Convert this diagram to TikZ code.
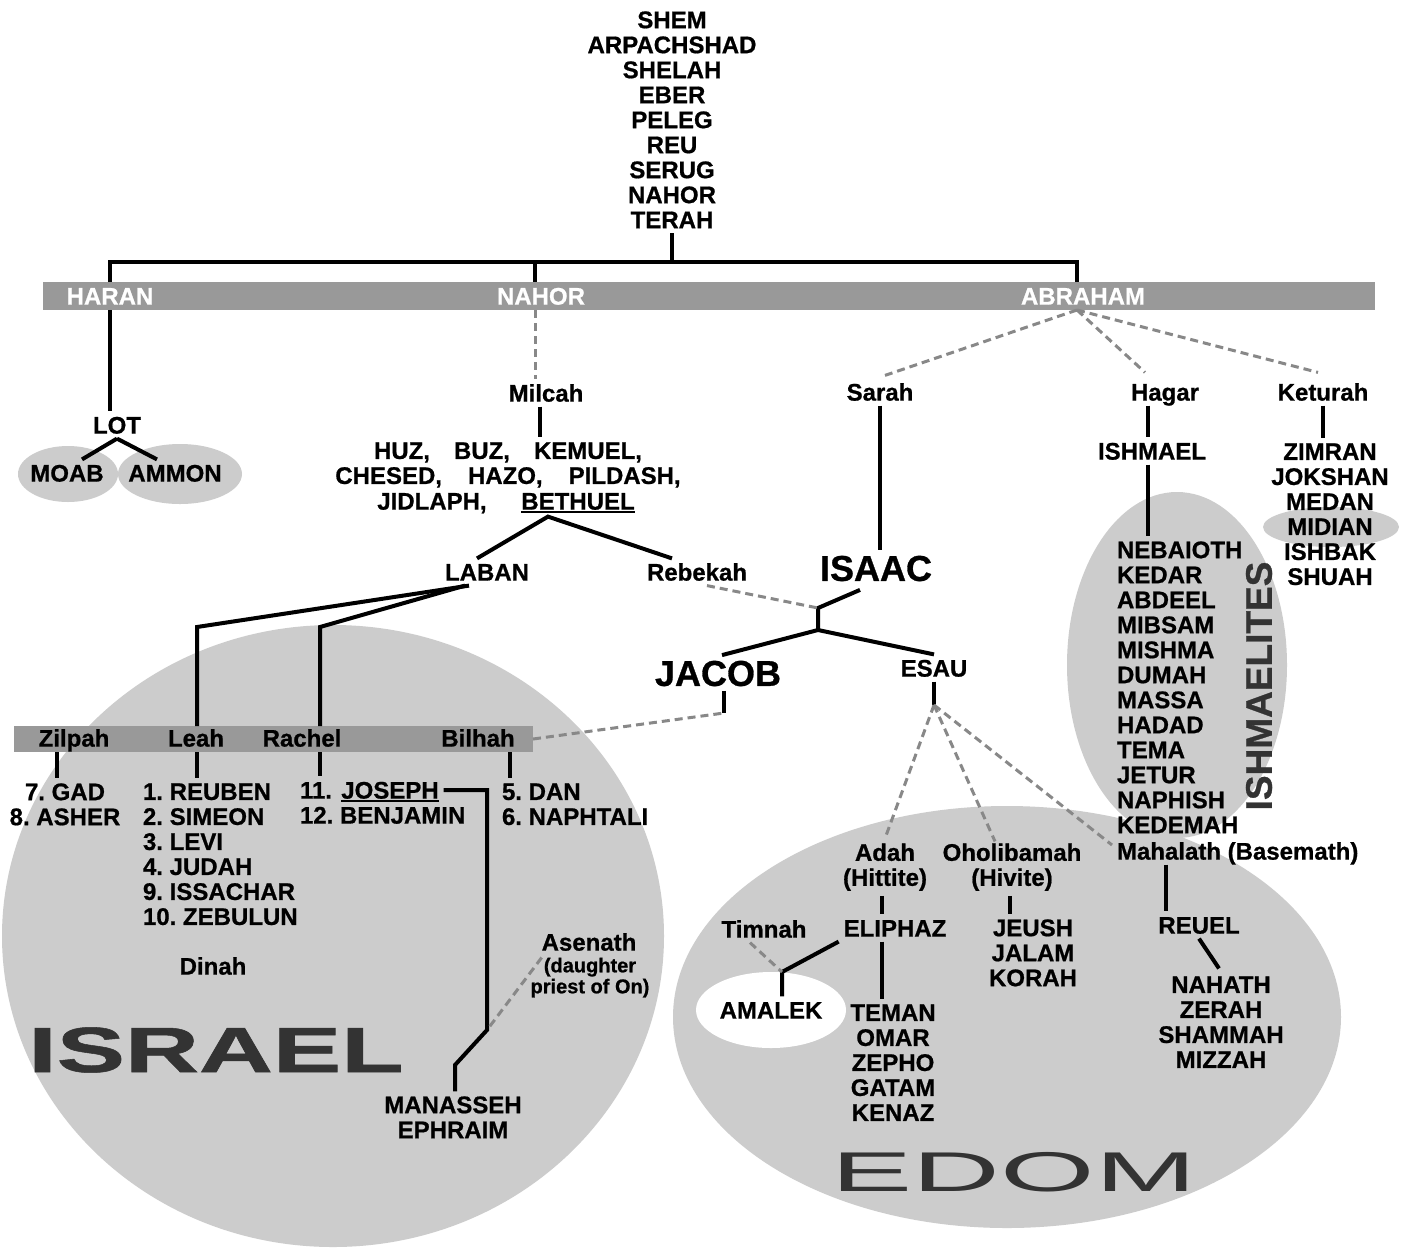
\documentclass[tikz,border=0pt]{standalone}
\usepackage{fontspec}
\usepackage{graphicx}
\setmainfont{Liberation Sans}[BoldFeatures={FakeBold=0.8}]
\usetikzlibrary{calc}
\definecolor{bargray}{HTML}{999999}
\definecolor{regiongray}{HTML}{CCCCCC}
\definecolor{dashgray}{HTML}{888888}
\definecolor{bigtext}{HTML}{333333}
\frenchspacing
\newcommand\lblfont{\fontsize{24}{25}\selectfont\bfseries\frenchspacing}
\newcommand\asefont{\fontsize{20}{21}\selectfont\bfseries}
\newcommand\bignamefont{\fontsize{36}{36}\selectfont\bfseries}
\tikzset{
  lbl/.style={font=\lblfont, inner sep=0pt, outer sep=5pt, text height=17.2pt, text depth=0pt},
  lst/.style={font=\lblfont, inner sep=0pt, outer sep=5pt, align=center, anchor=north},
  lstl/.style={font=\lblfont, inner sep=0pt, outer sep=5pt, align=left, anchor=north west},
  bigname/.style={font=\bignamefont, inner sep=0pt, outer sep=5pt, text height=25.8pt, text depth=0pt},
  onbar/.style={lbl, text=white},
  barbox/.style={fill=bargray, draw=none, inner sep=0pt, outer sep=0pt},
  region/.style={fill=regiongray},
  ln/.style={line width=4pt, draw=black},
  dsh/.style={line width=3pt, draw=dashgray, dash pattern=on 8pt off 5pt},
  ul/.style={line width=1.8pt, draw=black, shorten <=5pt, shorten >=5pt},
  bigword/.style={inner sep=0pt, text=bigtext},
}
\begin{document}
\begin{tikzpicture}[x=1pt,y=-1pt]
\fill[white] (0,0) rectangle (1405,1251);
\useasboundingbox (0,0) rectangle (1405,1251);

% ---------- regions ----------
\fill[region] (333,936) ellipse [x radius=331pt, y radius=311pt];
\fill[region] (1007,1017) ellipse [x radius=334pt, y radius=211pt];
\fill[region] (1177,665) ellipse [x radius=110pt, y radius=173pt];
\fill[region] (68,474) ellipse [x radius=50pt, y radius=28pt];
\fill[region] (180,474) ellipse [x radius=62pt, y radius=30pt];
\fill[region] (1331,527) ellipse [x radius=68pt, y radius=20pt];
\fill[white] (771,1010) ellipse [x radius=75pt, y radius=38pt];

% ---------- bars ----------
\node[barbox, minimum width=1332pt, minimum height=28pt] (bar1) at (709,296) {};
\node[barbox, minimum width=519pt, minimum height=26pt] (bar2) at (273.5,739) {};

% ---------- big words ----------
\node[bigword, font=\fontsize{64}{64}\selectfont\bfseries] (israel) at (216,1050) {\scalebox{1.6}[1]{ISRAEL}};
\node[bigword, font=\fontsize{56}{56}\selectfont] (edom) at (1014,1172) {\scalebox{2.17}[1]{EDOM}};
\node[bigword, font=\fontsize{37}{37}\selectfont\bfseries, rotate=90] (ishmaelites) at (1259,686) {ISHMAELITES};

% ---------- text nodes ----------
\node[lst] (top) at (672,6.4) {SHEM\\ARPACHSHAD\\SHELAH\\EBER\\PELEG\\REU\\SERUG\\NAHOR\\TERAH};
\node[onbar] (haran) at (110,296) {HARAN};
\node[onbar] (nahor) at (541,296) {NAHOR};
\node[onbar] (abraham) at (1083,296) {ABRAHAM};

\node[lbl] (lot) at (117,425) {LOT};
\node[lbl] (moab) at (67,473) {MOAB};
\node[lbl] (ammon) at (175,473) {AMMON};

\node[lbl] (milcah) at (546,393) {Milcah};
\node[lst] (nahorsons) at (508,437.4) {HUZ,\hspace{24pt}BUZ,\hspace{24pt}KEMUEL,\\CHESED,\hspace{26pt}HAZO,\hspace{26pt}PILDASH,};
\node[lbl] (jidlaph) at (432,501) {JIDLAPH,};
\node[lbl] (bethuel) at (578,501) {BETHUEL};
\node[lbl] (laban) at (487,572) {LABAN};
\node[lbl] (rebekah) at (697,572) {Rebekah};

\node[lbl] (sarah) at (880,392) {Sarah};
\node[lbl] (hagar) at (1165,392) {Hagar};
\node[lbl] (keturah) at (1323,392) {Keturah};
\node[bigname] (isaac) at (876,568) {ISAAC};
\node[bigname] (jacob) at (718,673) {JACOB};
\node[lbl] (esau) at (934,668) {ESAU};

\node[lbl] (ishmael) at (1152,451) {ISHMAEL};
\node[lstl] (ishlist) at (1112,536.4) {NEBAIOTH\\KEDAR\\ABDEEL\\MIBSAM\\MISHMA\\DUMAH\\MASSA\\HADAD\\TEMA\\JETUR\\NAPHISH\\KEDEMAH};
\node[lbl, anchor=west] (mahalath) at (1112,851) {Mahalath (Basemath)};
\node[lst] (zimlist) at (1330,438.4) {ZIMRAN\\JOKSHAN\\MEDAN\\MIDIAN\\ISHBAK\\SHUAH};

\node[lbl] (zilpah) at (74,738) {Zilpah};
\node[lbl] (leah) at (196,738) {Leah};
\node[lbl] (rachel) at (302,738) {Rachel};
\node[lbl] (bilhah) at (478,738) {Bilhah};

\node[lst] (gadlist) at (65,778.4) {7. GAD\\8. ASHER};
\node[lstl] (leahlist) at (138,778.4) {1. REUBEN\\2. SIMEON\\3. LEVI\\4. JUDAH\\9. ISSACHAR\\10. ZEBULUN};
\node[lbl, anchor=west] (r11) at (295,790) {11.};
\node[lbl] (joseph) at (390,790) {JOSEPH};
\node[lbl, anchor=west] (benjamin) at (295,815) {12. BENJAMIN};
\node[lstl] (bilhahlist) at (497,778.4) {5. DAN\\6. NAPHTALI};
\node[lbl] (dinah) at (213,966) {Dinah};
\node[lbl] (asenath) at (589,942) {Asenath};
\node[font=\asefont, inner sep=0pt, outer sep=5pt, align=center, anchor=north] (asenath2) at (590,952.8) {(daughter\\priest of On)};
\node[lst] (manlist) at (453,1091.4) {MANASSEH\\EPHRAIM};

\node[lst] (adah) at (885,838.4) {Adah\\(Hittite)};
\node[lst] (oholi) at (1012,838.4) {Oholibamah\\(Hivite)};
\node[lbl] (timnah) at (764,929) {Timnah};
\node[lbl] (eliphaz) at (895,928) {ELIPHAZ};
\node[lst] (jeushlist) at (1033,914.4) {JEUSH\\JALAM\\KORAH};
\node[lbl] (reuel) at (1199,925) {REUEL};
\node[lbl] (amalek) at (771,1010) {AMALEK};
\node[lst] (temanlist) at (893,999.4) {TEMAN\\OMAR\\ZEPHO\\GATAM\\KENAZ};
\node[lst] (nahathlist) at (1221,971.4) {NAHATH\\ZERAH\\SHAMMAH\\MIZZAH};

% ---------- helper coordinates ----------
\coordinate (tj) at (672,262);
\coordinate (hv) at (110,262);
\coordinate (nv) at (535,262);
\coordinate (av) at (1077,262);
\coordinate (mv) at (540,0);
\coordinate (lk1) at (197,627);
\coordinate (lk2) at (320,627);
\coordinate (zt) at (57,0);
\coordinate (bt) at (510,0);
\coordinate (jb) at (724,713);
\coordinate (f1) at (818,608);
\coordinate (f2) at (818,630);
\coordinate (hx) at (1148,0);
\coordinate (kx) at (1323,0);
\coordinate (esb) at (934,705);
\coordinate (ax) at (882,0);
\coordinate (ox) at (1010,0);
\coordinate (mx) at (1166,0);
\coordinate (am) at (782,972);
\coordinate (jo2) at (487,1030);
\coordinate (jo3) at (455,1065);

% ---------- solid connectors ----------
\draw[ln] (top.south) -- (tj);
\draw[ln] (hv |- bar1.north) -- (hv) -- (av) -- (av |- bar1.north);
\draw[ln] (nv) -- (nv |- bar1.north);
\draw[ln] (hv |- bar1.south) -- (hv |- lot.north);
\draw[ln] (lot.south) -- ($(moab.north)+(15,0)$);
\draw[ln] (lot.south) -- ($(ammon.north)+(-18,0)$);
\draw[ln] (milcah.south -| mv) -- (nahorsons.north -| mv);
\draw[ul] (bethuel.south west) ++(0,-2.5) -- ($(bethuel.south east)+(0,-2.5)$);
\draw[ln] ($(laban.north)+(-10,0)$) -- ($(bethuel.south)+(-30,2)$) -- ($(rebekah.north)+(-25,0)$);
\draw[ln] ($(laban.south)+(-18,0)$) -- (lk1) -- (lk1 |- bar2.north);
\draw[ln] ($(laban.south)+(-22,0)$) -- (lk2) -- (lk2 |- bar2.north);
\draw[ln] (zt |- bar2.south) -- (zt |- gadlist.north);
\draw[ln] (lk1 |- bar2.south) -- (lk1 |- leahlist.north);
\draw[ln] (lk2 |- bar2.south) -- (lk2 |- r11.north);
\draw[ln] (bt |- bar2.south) -- (bt |- bilhahlist.north);
\draw[ul] (joseph.south west) ++(0,-3) -- ($(joseph.south east)+(0,-3)$);
\draw[ln] (joseph.east) -| (jo2) -- (jo3) -- (jo3 |- manlist.north);
\draw[ln] (jacob.south -| jb) -- (jb);
\draw[ln] (sarah.south) -- (sarah.south |- isaac.north);
\draw[ln] ($(isaac.south)+(-16,4)$) -- (f1) -- (f2);
\draw[ln] ($(jacob.north)+(4,0)$) -- (f2) -- (esau.north);
\draw[ln] (esau.south) -- (esb);
\draw[ln] (hagar.south -| hx) -- (ishmael.north -| hx);
\draw[ln] (ishmael.south -| hx) -- (ishlist.north -| hx);
\draw[ln] (keturah.south -| kx) -- (zimlist.north -| kx);
\draw[ln] (adah.south -| ax) -- (eliphaz.north -| ax);
\draw[ln] (oholi.south -| ox) -- (jeushlist.north -| ox);
\draw[ln] (mahalath.south -| mx) -- (reuel.north -| mx);
\draw[ln] (reuel.south) -- ($(nahathlist.north)+(-2,-3)$);
\draw[ln] (eliphaz.south west) -- (am) -- (am |- amalek.north);
\draw[ln] (eliphaz.south -| ax) -- (temanlist.north -| ax);

% ---------- dashed connectors ----------
\draw[dsh] (nv |- bar1.south) -- (nv |- milcah.north);
\draw[dsh] (av |- bar1.south) -- ($(sarah.north)+(5,-3)$);
\draw[dsh] (av |- bar1.south) -- ($(hagar.north)+(-20,-6)$);
\draw[dsh] (av |- bar1.south) -- ($(keturah.north)+(-5,-6)$);
\draw[dsh] ($(rebekah.south)+(10,0)$) -- (f1);
\draw[dsh] (bar2.east) -- (jb);
\draw[dsh] (esb) -- (adah.north);
\draw[dsh] (esb) -- ($(oholi.north)+(-17,3)$);
\draw[dsh] (esb) -- ($(mahalath.west)+(0,-6)$);
\draw[dsh] ($(timnah.south)+(-14,0)$) -- (am);
\draw[dsh] ($(asenath.south west)+(5,2)$) -- (jo2);
\end{tikzpicture}
\end{document}
